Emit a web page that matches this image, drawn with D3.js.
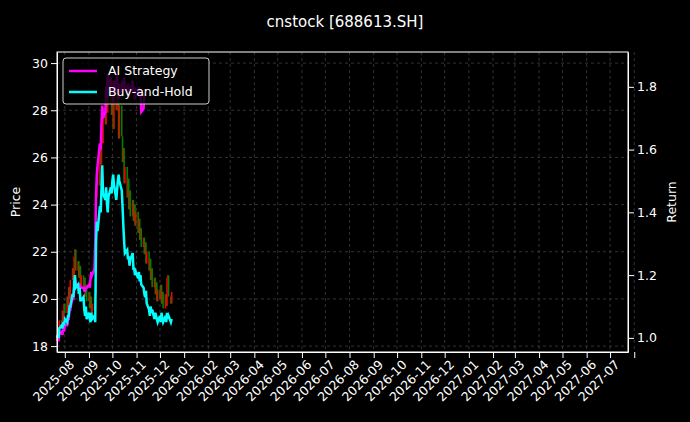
<!DOCTYPE html>
<html>
<head>
<meta charset="utf-8">
<script src="https://cdn.jsdelivr.net/npm/d3@7"></script>
<style>
  body { margin: 0; background: #000; }
  text { font-family: "DejaVu Sans", sans-serif; fill: #fff; }
  .grid line { stroke: #555; stroke-dasharray: 3,3; stroke-width: 0.6; }
  .axis path, .axis line { stroke: #fff; }
</style>
</head>
<body>
<div id="chart"></div>
<script>

// trading days: weekdays 2025-07-22 .. 2025-12-16
var startDay = new Date(2025, 6, 22), endDay = new Date(2025, 11, 16);
var dates = [];
for (var d = new Date(startDay); d <= endDay; d.setDate(d.getDate() + 1)) {
    if (d.getDay() != 0 && d.getDay() != 6) dates.push(new Date(d));
}

var closes = [
    18.4, 18.8, 18.6, 19.1,
    18.9, 19.5, 19.2, 19.8, 19.4,
    20.1, 19.7, 20.5, 20.0, 20.8,
    21.3, 20.6, 21.8, 22.1, 21.2,
    21.6, 20.9, 21.4, 20.5, 21.0,
    20.4, 20.9, 20.1, 20.6, 19.9,
    20.3, 19.6, 20.1, 19.4, 19.8,
    19.5, 20.2, 24.3, 25.6, 24.8,
    26.4, 25.7, 27.3, 26.6, 28.1,
    27.4, 28.8, 27.9, 29.2, 28.3,
    29.0, 27.8, 28.6, 27.2, 28.9,
    28.0, 29.3, 28.4, 26.8, 28.2,
    26.9, 25.8, 26.4, 24.9, 25.6,
    24.3, 25.1, 23.8, 24.6, 23.5,
    24.2, 23.3, 24.0, 23.1, 23.7,
    22.8, 23.4, 22.5, 23.0, 22.2,
    22.6, 21.9, 22.4, 21.5, 22.0,
    21.2, 21.7, 20.8, 21.3, 20.5,
    20.9, 20.2, 20.7, 19.9, 20.4,
    20.0, 20.6, 19.8, 20.3, 19.6,
    20.2, 19.7, 20.9, 21.0, 20.1,
    19.8, 20.3
];
var firstOpen = 18.2;

var buyHold = [
    1.00, 1.01, 1.00, 1.03,
    1.04, 1.03, 1.05, 1.04, 1.06,
    1.05, 1.07, 1.07, 1.10, 1.10,
    1.14, 1.13, 1.17, 1.20, 1.16,
    1.17, 1.14, 1.16, 1.12, 1.12,
    1.13, 1.09, 1.07, 1.10, 1.06,
    1.08, 1.06, 1.05, 1.08, 1.06,
    1.07, 1.05, 1.30, 1.37, 1.34,
    1.42, 1.40, 1.47, 1.55, 1.46,
    1.44, 1.48, 1.43, 1.40, 1.45,
    1.48, 1.46, 1.50, 1.52, 1.49,
    1.44, 1.47, 1.50, 1.52, 1.50,
    1.47, 1.42, 1.36, 1.31, 1.27,
    1.28, 1.25, 1.26, 1.23, 1.25,
    1.27, 1.22, 1.22, 1.20, 1.21,
    1.19, 1.21, 1.18, 1.20, 1.17,
    1.16, 1.14, 1.13, 1.15, 1.11,
    1.09, 1.07, 1.10, 1.08, 1.09,
    1.06, 1.08, 1.07, 1.06, 1.05,
    1.07, 1.05, 1.08, 1.06, 1.05,
    1.07, 1.05, 1.08, 1.06, 1.07,
    1.05, 1.06
];

var aiStrategy = [
    0.99, 1.00, 0.99, 1.01,
    1.02, 1.01, 1.03, 1.02, 1.04,
    1.04, 1.06, 1.06, 1.09, 1.09,
    1.13, 1.12, 1.16, 1.19, 1.17,
    1.17, 1.17, 1.17, 1.16, 1.16,
    1.16, 1.15, 1.15, 1.16, 1.16,
    1.17, 1.16, 1.19, 1.21, 1.20,
    1.22, 1.30, 1.45, 1.52, 1.55,
    1.62, 1.60, 1.68, 1.74, 1.70,
    1.72, 1.80, 1.76, 1.84, 1.79,
    1.83, 1.77, 1.81, 1.75, 1.82,
    1.78, 1.84, 1.80, 1.76, 1.81,
    1.78, 1.82, 1.79, 1.83, 1.80,
    1.78, 1.81, 1.77, 1.80, 1.79,
    1.82, 1.78, 1.80, 1.76, 1.79,
    1.78, 1.80, 1.77, 1.79, 1.72,
    1.73, 1.78
];

var tickMonths = d3.timeMonth.range(new Date(2025, 7, 1), new Date(2027, 7, 2));

var width = 690, height = 422;
var margin = { top: 52, right: 62, bottom: 70, left: 57 };
var w = width - margin.left - margin.right, h = height - margin.top - margin.bottom;

var svg = d3.select("#chart").append("svg")
    .attr("width", width).attr("height", height)
    .style("background", "#000");

svg.append("text")
    .attr("x", 345).attr("y", 27)
    .attr("text-anchor", "middle")
    .style("font-size", "15px")
    .text("cnstock [688613.SH]");

var g = svg.append("g").attr("transform", "translate(" + margin.left + "," + margin.top + ")");

var x = d3.scaleTime().domain([new Date(2025, 6, 22), new Date(2027, 6, 24)]).range([0, w]);
var y = d3.scaleLinear().domain([17.75, 30.47]).range([h, 0]);
var y2 = d3.scaleLinear().domain([0.955, 1.911]).range([h, 0]);

// grid
g.append("g").attr("class", "grid")
    .selectAll("line.v").data(tickMonths).join("line")
    .attr("x1", d => x(d)).attr("x2", d => x(d)).attr("y1", 0).attr("y2", h);
g.append("g").attr("class", "grid")
    .selectAll("line.h").data(d3.range(18, 31, 2)).join("line")
    .attr("x1", 0).attr("x2", w).attr("y1", d => y(d)).attr("y2", d => y(d));

// candles
var candles = closes.map((c, i) => ({ date: dates[i], open: i ? closes[i - 1] : firstOpen, close: c }));
g.selectAll(".candle").data(candles).join("rect")
    .attr("class", "candle")
    .attr("x", d => x(d.date) - 0.8)
    .attr("width", 1.6)
    .attr("y", d => y(Math.max(d.open, d.close)))
    .attr("height", d => Math.max(1, Math.abs(y(d.open) - y(d.close))))
    .attr("fill", d => d.close >= d.open ? "#f00000" : "#008000");

// return lines
var line = d3.line().x((d, i) => x(dates[i])).y(d => y2(d));
g.append("path").datum(aiStrategy).attr("d", line)
    .attr("fill", "none").attr("stroke", "#ff00ff").attr("stroke-width", 2.5);
g.append("path").datum(buyHold).attr("d", line)
    .attr("fill", "none").attr("stroke", "#00ffff").attr("stroke-width", 2.5);

// axes
var xAxis = g.append("g").attr("class", "axis")
    .attr("transform", "translate(0," + h + ")")
    .call(d3.axisBottom(x).tickValues(tickMonths).tickFormat(d3.timeFormat("%Y-%m")).tickSizeOuter(0));
xAxis.selectAll("text")
    .style("font-size", "12.5px")
    .attr("text-anchor", "end")
    .attr("dx", "-0.2em").attr("dy", "0.6em")
    .attr("transform", "rotate(-45)");
xAxis.selectAll(".tick").filter((d, i) => i == tickMonths.length - 1).select("text").remove();

g.append("g").attr("class", "axis")
    .call(d3.axisLeft(y).tickValues(d3.range(18, 31, 2)).tickSizeOuter(0))
    .selectAll("text").style("font-size", "12.5px");
g.append("g").attr("class", "axis")
    .attr("transform", "translate(" + w + ",0)")
    .call(d3.axisRight(y2).tickValues([1.0, 1.2, 1.4, 1.6, 1.8]).tickFormat(d3.format(".1f")).tickSizeOuter(0))
    .selectAll("text").style("font-size", "12.5px");
g.append("rect").attr("width", w).attr("height", h)
    .attr("fill", "none").attr("stroke", "#fff");

svg.append("text")
    .attr("transform", "translate(20," + (margin.top + h / 2) + ")rotate(-90)")
    .attr("text-anchor", "middle").style("font-size", "12.5px").text("Price");
svg.append("text")
    .attr("transform", "translate(676," + (margin.top + h / 2) + ")rotate(-90)")
    .attr("text-anchor", "middle").style("font-size", "12.5px").text("Return");

// legend
var legend = g.append("g").attr("transform", "translate(6,6)");
legend.append("rect").attr("width", 146).attr("height", 46).attr("rx", 3)
    .attr("fill", "#000").attr("fill-opacity", 0.8).attr("stroke", "#ccc");
[["AI Strategy", "#ff00ff"], ["Buy-and-Hold", "#00ffff"]].forEach((s, i) => {
    legend.append("line").attr("x1", 6).attr("x2", 34).attr("y1", 13 + i * 21).attr("y2", 13 + i * 21)
        .attr("stroke", s[1]).attr("stroke-width", 2.5);
    legend.append("text").attr("x", 45).attr("y", 17 + i * 21).style("font-size", "12.5px").text(s[0]);
});
</script>
</body>
</html>
